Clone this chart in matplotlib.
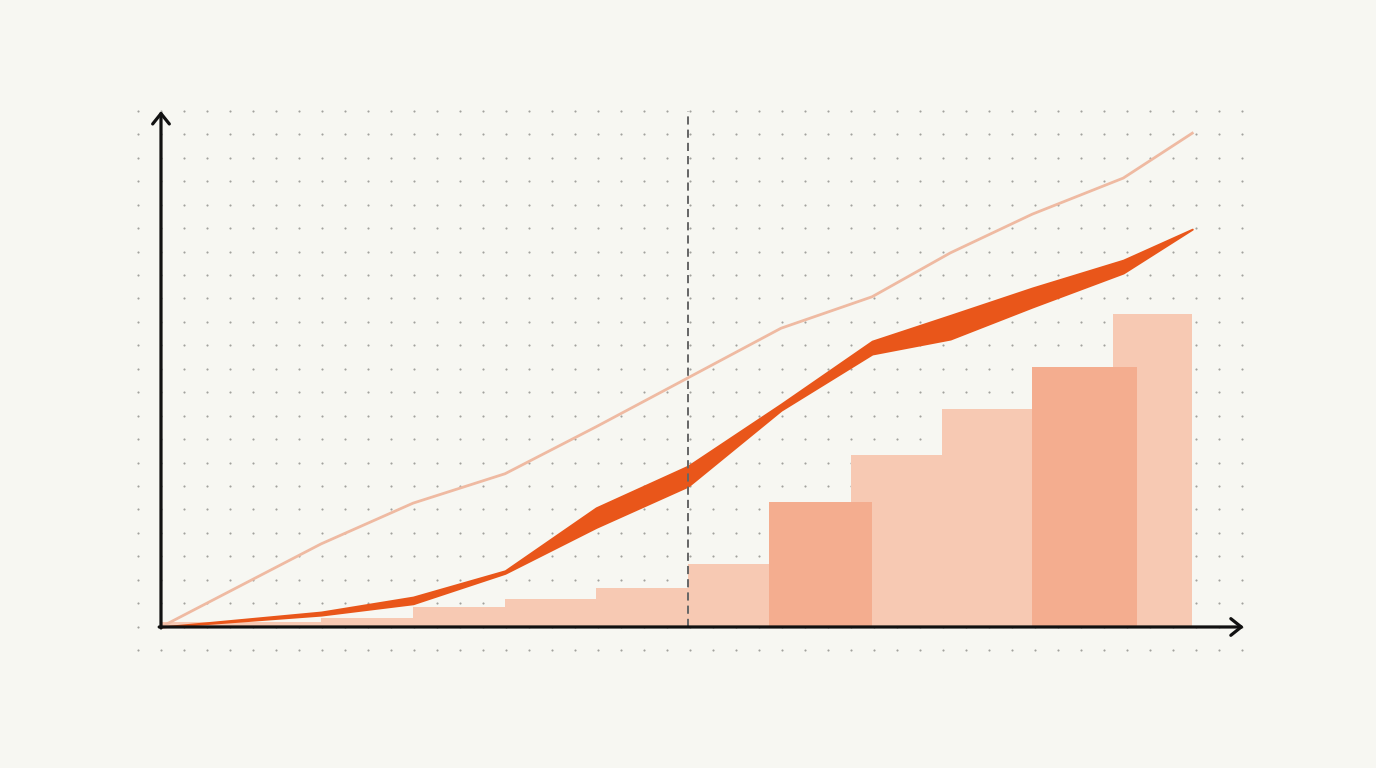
import matplotlib.pyplot as plt
import numpy as np

# bars: left edge, right edge, height
light_left = [0.0, 1.74, 2.74, 3.74, 4.73, 5.73, 7.50, 8.49, 10.35]
light_right = [1.74, 2.74, 3.74, 4.73, 5.73, 6.61, 8.49, 9.47, 11.21]
light_h = [1.0, 1.7, 3.9, 5.4, 7.6, 12.2, 33.3, 42.2, 60.7]

dark_left = [6.61, 9.47]
dark_right = [7.73, 10.61]
dark_h = [24.2, 50.4]

# thin reference line
ref_x = [0.0, 1.74, 2.74, 3.74, 4.73, 5.73, 6.74, 7.73, 8.58, 9.47, 10.46, 11.21]
ref_y = [0.0, 16.1, 24.0, 29.7, 38.8, 48.3, 57.9, 64.0, 72.5, 80.0, 87.0, 95.7]

# orange band
band_x = [0.0, 1.74, 2.74, 3.74, 4.73, 5.73, 6.74, 7.73, 8.58, 9.47, 10.46, 11.21]
band_hi = [0.0, 2.9, 5.8, 10.9, 23.1, 31.2, 43.2, 55.4, 60.4, 65.7, 71.1, 77.1]
band_lo = [0.0, 2.3, 4.5, 10.4, 19.3, 27.3, 42.0, 52.9, 55.8, 62.0, 68.6, 77.1]

marker_x = 5.73

bg = "#f7f7f2"
fig = plt.figure(figsize=(13.76, 7.68), dpi=100, facecolor=bg)
ax = fig.add_axes([0, 0, 1, 1])
ax.set_facecolor(bg)
ax.set_xlim(-1.75, 13.207)
ax.set_ylim(-27.33, 121.51)
ax.axis("off")

# dot grid
gx = np.arange(-0.25, 11.8, 0.25)
gy = np.linspace(-4.46, 100, 24)
GX, GY = np.meshgrid(gx, gy)
ax.scatter(GX.ravel(), GY.ravel(), s=2.4, color="#a2a29e", linewidths=0, zorder=1)

# bars
for l, r, h in zip(light_left, light_right, light_h):
    ax.bar(l, h, width=r - l, align="edge", color="#f7c9b3", linewidth=0, zorder=2)
for l, r, h in zip(dark_left, dark_right, dark_h):
    ax.bar(l, h, width=r - l, align="edge", color="#f4ad8f", linewidth=0, zorder=3)

# reference line
ax.plot(ref_x, ref_y, color="#efbaa2", lw=2.0, zorder=4, solid_joinstyle="round")

# band
ax.fill_between(band_x, band_lo, band_hi, color="#e9561a", linewidth=1.4,
                edgecolor="#e9561a", zorder=5)

# dashed marker
ax.plot([marker_x, marker_x], [0, 100], color="#666666", lw=1.4,
        dashes=(4.2, 2.6), zorder=6)

# axes with arrows
arrow = dict(arrowstyle="->,head_length=0.75,head_width=0.6", lw=2.3,
             color="#111111", shrinkA=0, shrinkB=0)
ax.annotate("", xy=(0, 100), xytext=(0, -0.2), arrowprops=arrow, zorder=7)
ax.annotate("", xy=(11.77, 0), xytext=(-0.02, 0), arrowprops=arrow, zorder=7)

fig.savefig("out.png", dpi=100, facecolor=bg)
